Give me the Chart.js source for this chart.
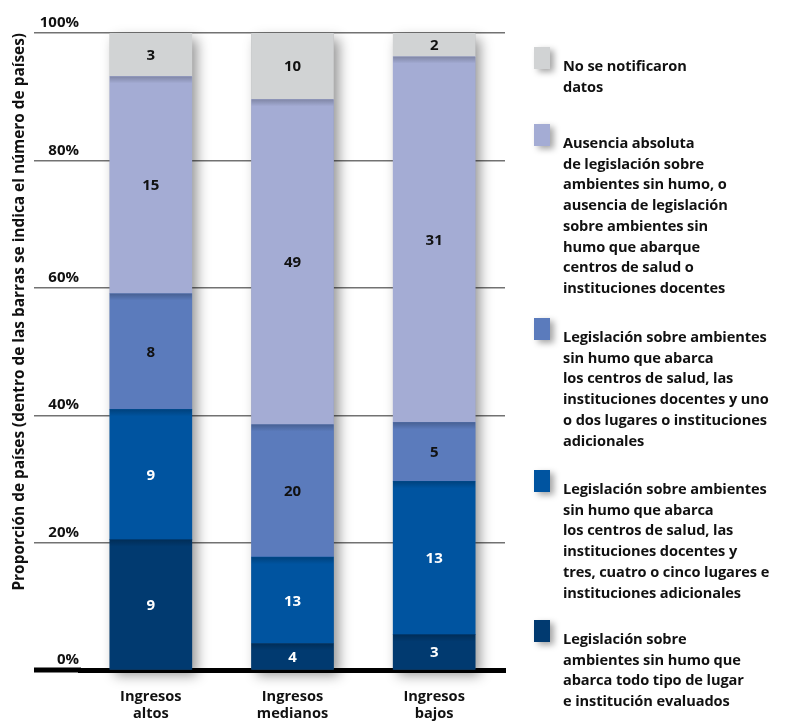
<!DOCTYPE html>
<html>
<head>
<meta charset="utf-8">
<script src="https://cdn.jsdelivr.net/npm/chart.js@4.4.1/dist/chart.umd.min.js"></script>
<style>
html,body{margin:0;padding:0;background:#fff;}
#wrap{position:relative;width:789px;height:722px;overflow:hidden;background:#fff;}
canvas{position:absolute;left:0;top:0;}
.leg{position:absolute;left:534px;width:255px;}
.sw{position:absolute;left:0;top:0;width:16px;height:22px;box-shadow:4px 3px 6px rgba(0,0,0,0.35);}
.tx{position:absolute;left:29px;top:8px;font-family:'Open Sans',sans-serif;font-weight:700;font-size:14.6px;line-height:20.7px;color:#111;white-space:nowrap;letter-spacing:-0.1px;}
</style>
</head>
<body>
<div id="wrap">
<canvas id="c" width="789" height="722"></canvas>
<div id="legend"></div>
</div>
<script>
// ---- DATA ----
const categories = [["Ingresos", "altos"], ["Ingresos", "medianos"], ["Ingresos", "bajos"]];
const yTicks = [0, 20, 40, 60, 80, 100];
const yTitle = "Proporción de países (dentro de las barras se indica el número de países)";

// series, from bottom of the stack to the top (number of countries)
const allPlaces     = [9, 4, 3];
const threeToFive   = [9, 13, 13];
const oneOrTwo      = [8, 20, 5];
const noLegislation = [15, 49, 31];
const noData        = [3, 10, 2];

const nameAllPlaces     = ["Legislación sobre", "ambientes sin humo que", "abarca todo tipo de lugar", "e institución evaluados"];
const nameThreeToFive   = ["Legislación sobre ambientes", "sin humo que abarca", "los centros de salud, las", "instituciones docentes y", "tres, cuatro o cinco lugares e", "instituciones adicionales"];
const nameOneOrTwo      = ["Legislación sobre ambientes", "sin humo que abarca", "los centros de salud, las", "instituciones docentes y uno", "o dos lugares o instituciones", "adicionales"];
const nameNoLegislation = ["Ausencia absoluta", "de legislación sobre", "ambientes sin humo, o", "ausencia de legislación", "sobre ambientes sin", "humo que abarque", "centros de salud o", "instituciones docentes"];
const nameNoData        = ["No se notificaron", "datos"];

// ---- STYLE ----
const colors = ["#013a70", "#0054a0", "#5b7bbc", "#a4acd4", "#d1d3d4"];
const labelColors = ["#ffffff", "#ffffff", "#111111", "#111111", "#111111"];
const FONT = "'Open Sans', sans-serif";

const seriesValues = [allPlaces, threeToFive, oneOrTwo, noLegislation, noData];
const seriesNames = [nameAllPlaces, nameThreeToFive, nameOneOrTwo, nameNoLegislation, nameNoData];
const totals = categories.map((_, i) => seriesValues.reduce((s, arr) => s + arr[i], 0));

const datasets = seriesValues.map((vals, k) => ({
  label: seriesNames[k].join(" "),
  data: vals.map((v, i) => v / totals[i] * 100),
  counts: vals,
  backgroundColor: colors[k],
  borderWidth: 0,
  barThickness: 82
}));

const shadowPlugin = {
  id: "barShadow",
  beforeDatasetsDraw(chart) {
    const ctx = chart.ctx;
    const metas = chart.data.datasets.map((_, k) => chart.getDatasetMeta(k));
    categories.forEach((_, i) => {
      let top = Infinity, base = -Infinity, x = 0, w = 0;
      metas.forEach(m => {
        const el = m.data[i];
        const p = el.getProps(["x", "y", "base", "width"], true);
        top = Math.min(top, p.y);
        base = Math.max(base, p.base);
        x = p.x; w = p.width;
      });
      ctx.save();
      ctx.shadowColor = "rgba(0,0,0,0.42)";
      ctx.shadowBlur = 12;
      ctx.shadowOffsetX = 5;
      ctx.shadowOffsetY = 6;
      ctx.fillStyle = "#888";
      ctx.fillRect(x - w / 2, top, w, base - top);
      ctx.restore();
    });
  },
  afterDatasetsDraw(chart) {
    const ctx = chart.ctx;
    const n = chart.data.datasets.length;
    // soft band under each upper segment
    chart.data.datasets.forEach((ds, k) => {
      if (k === n - 1) return;
      chart.getDatasetMeta(k).data.forEach(el => {
        const p = el.getProps(["x", "y", "base", "width"], true);
        const h = Math.min(7, p.base - p.y);
        const g = ctx.createLinearGradient(0, p.y, 0, p.y + h);
        g.addColorStop(0, "rgba(0,0,0,0.22)");
        g.addColorStop(1, "rgba(0,0,0,0)");
        ctx.fillStyle = g;
        ctx.fillRect(p.x - p.width / 2, p.y, p.width, h);
      });
    });
    // value labels
    ctx.save();
    ctx.font = "700 15px " + FONT;
    ctx.textAlign = "center";
    ctx.textBaseline = "middle";
    chart.data.datasets.forEach((ds, k) => {
      ctx.fillStyle = labelColors[k];
      chart.getDatasetMeta(k).data.forEach((el, i) => {
        const p = el.getProps(["x", "y", "base"], true);
        ctx.fillText(String(ds.counts[i]), p.x, (p.y + p.base) / 2 + 1);
      });
    });
    ctx.restore();
  },
  afterDraw(chart) {
    // extend the black baseline to the left edge of the gridlines
    const ctx = chart.ctx;
    const a = chart.chartArea;
    ctx.save();
    ctx.fillStyle = "#000";
    ctx.fillRect(34, a.bottom - 2.5, a.left - 34 + 1, 5);
    ctx.restore();
  }
};

new Chart(document.getElementById("c"), {
  type: "bar",
  data: { labels: categories, datasets },
  plugins: [shadowPlugin],
  options: {
    responsive: false,
    animation: false,
    devicePixelRatio: 1,
    layout: { padding: { left: 0, right: 284, top: 33, bottom: 0 } },
    plugins: { legend: { display: false }, tooltip: { enabled: false } },
    scales: {
      x: {
        stacked: true,
        z: 1,
        grid: { display: false, drawTicks: false },
        border: { display: true, color: "#000000", width: 5 },
        ticks: {
          color: "#111111",
          font: { family: FONT, weight: "700", size: 14.6, lineHeight: 1.2 },
          padding: 18,
          maxRotation: 0,
          autoSkip: false
        },
        afterFit: s => { s.height = 52; }
      },
      y: {
        stacked: true,
        min: 0,
        max: 100,
        afterBuildTicks: s => { s.ticks = yTicks.map(v => ({ value: v })); },
        ticks: {
          callback: v => v + "%",
          padding: -45,
          labelOffset: -10,
          color: "#111111",
          font: { family: FONT, weight: "700", size: 15 }
        },
        grid: { color: "#727272", lineWidth: 1.4, tickLength: 46, drawTicks: true },
        border: { display: false },
        title: {
          display: true,
          text: yTitle,
          align: "end",
          color: "#111111",
          font: { family: FONT, weight: "700", size: 15.4 },
          padding: { top: 10, bottom: 0 }
        },
        afterFit: s => { s.width = 80; }
      }
    }
  }
});

// ---- HTML legend (top to bottom = top of stack first) ----
const legendTops = [47, 124, 318, 470, 620];
const legend = document.getElementById("legend");
for (let j = 0; j < seriesNames.length; j++) {
  const k = seriesNames.length - 1 - j;
  const item = document.createElement("div");
  item.className = "leg";
  item.style.top = legendTops[j] + "px";
  const sw = document.createElement("div");
  sw.className = "sw";
  sw.style.background = colors[k];
  const tx = document.createElement("div");
  tx.className = "tx";
  seriesNames[k].forEach((line, li) => {
    if (li) tx.appendChild(document.createElement("br"));
    tx.appendChild(document.createTextNode(line));
  });
  item.appendChild(sw);
  item.appendChild(tx);
  legend.appendChild(item);
}
</script>
</body>
</html>
